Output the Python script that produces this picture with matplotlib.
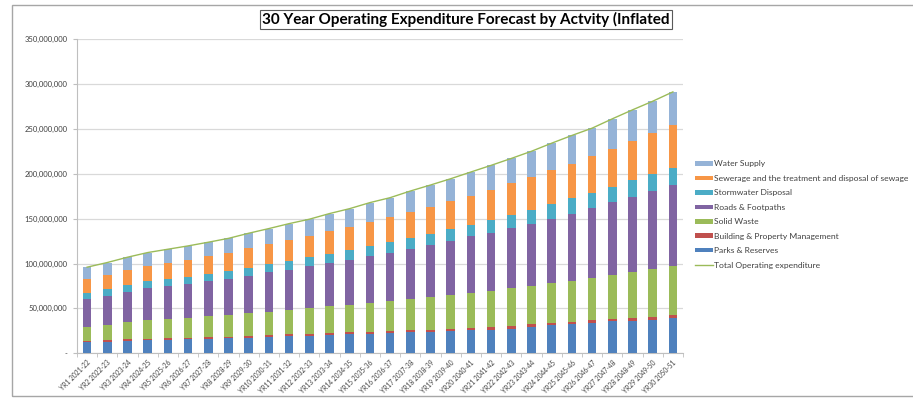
import numpy as np
import matplotlib
matplotlib.use("Agg")
import matplotlib.pyplot as plt
from matplotlib.patches import Rectangle
from matplotlib.ticker import FuncFormatter, MultipleLocator

plt.rcParams["font.family"] = ["Lato", "DejaVu Sans"]

years = [f"YR{i} {2020 + i}-{(21 + i) % 100:02d}" for i in range(1, 31)]

# values in millions
parks = [12.2, 13.0, 14.0, 14.5, 15.0, 15.5, 16.0, 16.5, 17.5, 18.0,
         19.0, 19.5, 20.0, 21.0, 21.5, 22.5, 23.5, 24.0, 25.0, 26.0,
         26.5, 27.5, 29.5, 31.0, 32.5, 34.0, 35.5, 36.5, 37.5, 39.0]
building = [1.6, 1.7, 1.7, 1.8, 1.8, 1.9, 1.9, 2.0, 2.0, 2.1,
            2.1, 2.2, 2.2, 2.3, 2.3, 2.4, 2.4, 2.5, 2.5, 2.6,
            2.6, 2.7, 2.8, 2.9, 2.9, 3.0, 3.0, 3.1, 3.1, 3.2]
solid = [15.8, 16.7, 19.1, 20.4, 21.7, 22.2, 23.2, 24.1, 24.9, 26.2,
         27.0, 28.7, 30.0, 30.4, 32.5, 33.2, 34.1, 35.7, 37.3, 38.8,
         40.5, 42.0, 42.5, 43.9, 45.3, 47.1, 48.5, 50.4, 53.1, 54.8]
roads = [30.7, 32.3, 33.3, 35.5, 36.3, 37.4, 39.2, 40.0, 41.2, 43.7,
         44.5, 46.6, 48.2, 50.4, 51.5, 53.4, 56.3, 58.2, 60.4, 63.0,
         64.8, 67.4, 69.6, 72.2, 74.9, 77.4, 81.1, 84.1, 87.0, 90.0]
storm = [7.1, 7.4, 7.5, 8.1, 7.4, 8.1, 7.8, 8.8, 9.6, 9.3,
         10.4, 9.7, 10.3, 11.1, 11.8, 12.2, 11.8, 12.9, 12.9, 12.9,
         14.5, 14.1, 15.6, 15.9, 17.4, 17.4, 17.1, 18.5, 18.6, 19.7]
sewer = [15.5, 16.2, 17.0, 17.4, 18.5, 19.3, 20.0, 20.4, 21.8, 22.2,
         23.7, 24.4, 25.2, 25.9, 27.1, 28.2, 29.3, 29.7, 31.2, 31.9,
         33.3, 35.6, 36.0, 37.8, 38.1, 40.4, 41.8, 43.3, 45.9, 47.0]
water = [13.0, 13.8, 14.4, 14.5, 15.2, 15.2, 15.6, 16.2, 16.7, 17.4,
         17.7, 18.2, 19.7, 20.0, 21.1, 21.4, 23.3, 24.4, 25.1, 26.7,
         27.1, 27.7, 29.0, 30.3, 31.5, 31.4, 34.1, 35.2, 35.5, 37.4]

series = [
    ("Parks & Reserves", parks, "#4F81BD"),
    ("Building & Property Management", building, "#C0504D"),
    ("Solid Waste", solid, "#9BBB59"),
    ("Roads & Footpaths", roads, "#8064A2"),
    ("Stormwater Disposal", storm, "#4BACC6"),
    ("Sewerage and the treatment and disposal of sewage", sewer, "#F79646"),
    ("Water Supply", water, "#95B3D7"),
]

fig = plt.figure(figsize=(9.13, 3.99), dpi=100)
W, H = 913, 399

# outer chart frame
fig.patches.append(Rectangle((12 / W, 3 / H), 1.0, 1 - 8 / H, transform=fig.transFigure,
                             fill=False, edgecolor="#a6a6a6", linewidth=1.0))

ax = fig.add_axes([77 / W, 1 - 353.3 / H, 606 / W, (353.3 - 39) / H])
x = np.arange(len(years))
bottom = np.zeros(len(years))
handles = []
for name, vals, col in series:
    v = np.array(vals) * 1e6
    b = ax.bar(x, v, 0.42, bottom=bottom, color=col, label=name, zorder=3)
    handles.append(b)
    bottom += v
line, = ax.plot(x, bottom, color="#9BBB59", linewidth=1.0, zorder=4,
                label="Total Operating expenditure")

ax.set_xlim(-0.5, len(years) - 0.5)
ax.set_ylim(0, 350e6)
ax.yaxis.set_major_locator(MultipleLocator(50e6))
ax.yaxis.set_major_formatter(FuncFormatter(lambda v, p: "-" if v == 0 else f"{v:,.0f}"))
ax.grid(axis="y", color="#d9d9d9", linewidth=0.9, zorder=0)
for s in ["top", "right"]:
    ax.spines[s].set_visible(False)
for s in ["left", "bottom"]:
    ax.spines[s].set_color("#bfbfbf")
ax.tick_params(axis="y", length=3, color="#bfbfbf", labelsize=5.5, labelcolor="#404040", pad=4)
ax.set_xticks(x)
ax.set_xticklabels(years, rotation=45, ha="right", rotation_mode="anchor",
                   fontsize=4.8, color="#404040")
ax.tick_params(axis="x", length=0, pad=4)
ax.set_xticks(np.arange(-0.5, len(years)), minor=True)
ax.tick_params(axis="x", which="minor", length=3, color="#bfbfbf")

fig.text(466 / W, 1 - 19.5 / H, "30 Year Operating Expenditure Forecast by Actvity (Inflated",
         ha="center", va="center", fontsize=11, fontweight="bold",
         bbox=dict(boxstyle="square,pad=0.15", facecolor="white", edgecolor="#595959", linewidth=0.8))

leg = fig.legend(handles[::-1] + [line],
                 [s[0] for s in series[::-1]] + ["Total Operating expenditure"],
                 loc="upper left", bbox_to_anchor=(695 / W, 1 - 160.5 / H),
                 frameon=False, fontsize=6.1, handlelength=2.1, handleheight=0.45,
                 handletextpad=0.15, labelspacing=0.88, borderpad=0, borderaxespad=0)
for t in leg.get_texts():
    t.set_color("#404040")

fig.savefig("out.png", dpi=100)
